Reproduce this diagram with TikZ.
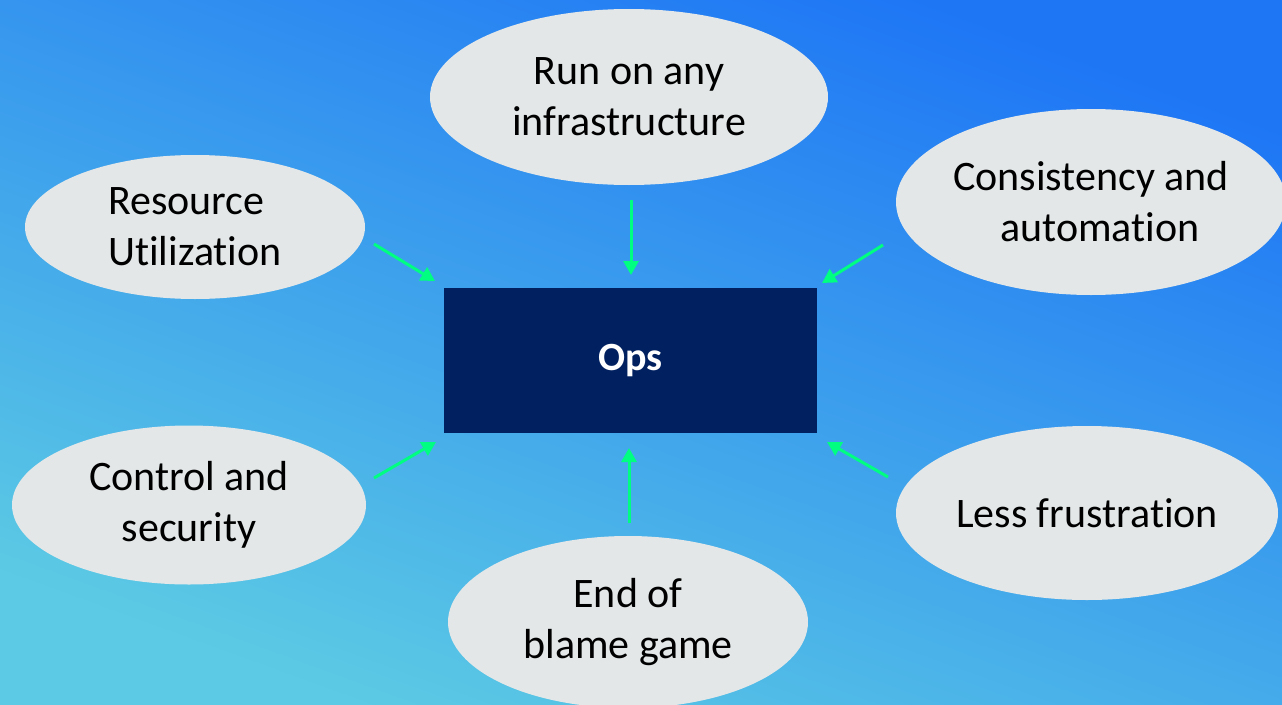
\documentclass[tikz,border=0pt]{standalone}
\usepackage{fontspec}
\setmainfont[Ligatures={NoCommon,NoRare,NoContextual},RawFeature={-calt}]{Carlito}
\usetikzlibrary{shapes.geometric,arrows.meta}
\definecolor{bgcyan}{RGB}{92,202,228}
\definecolor{bgblue}{RGB}{30,118,245}
\definecolor{ellfill}{RGB}{227,231,232}
\definecolor{opsblue}{RGB}{0,32,96}
\definecolor{arrgreen}{RGB}{0,255,128}
\tikzset{
  bubble/.style={ellipse, fill=ellfill, inner sep=0pt, text=black,
    font=\fontsize{42}{51}\selectfont, align=center},
  opsbox/.style={rectangle, fill=opsblue, inner sep=0pt, text=white,
    minimum width=373pt, minimum height=145pt, font=\fontsize{40}{48}\selectfont\bfseries},
  feed/.style={draw=arrgreen, line width=3pt, -{Triangle[length=14pt,width=15pt]}}
}
\begin{document}
\begin{tikzpicture}[x=1pt,y=-1pt]
\useasboundingbox (0,0) rectangle (1282,704);
\shade[bottom color=bgcyan, top color=bgblue, shading angle=-20] (0,0) rectangle (1282,704);
\begin{scope}
\clip (0,0) rectangle (1282,704);
\node[bubble, minimum width=398pt, minimum height=176pt] (run) at (629,97) {\raisebox{-2pt}{Run on any}\\\raisebox{-2pt}{infrastructure}};
\node[bubble, minimum width=340pt, minimum height=144pt, align=left] (res) at (195,227) {\raisebox{-1pt}{Resource}\\\raisebox{-1pt}{Utilizat\kern0pt ion}};
\node[bubble, minimum width=390pt, minimum height=186pt] (cons) at (1091,202) {\raisebox{-1pt}{Consistency and}\\\hspace*{18pt}\raisebox{-1pt}{automat\kern0pt ion}};
\node[bubble, minimum width=354pt, minimum height=159pt] (ctrl) at (189,505) {\raisebox{-2pt}{Control and}\\\raisebox{-2pt}{security}};
\node[bubble, minimum width=382pt, minimum height=174pt] (less) at (1087,513) {\raisebox{-1pt}{Less frustrat\kern0pt ion}};
\node[bubble, minimum width=360pt, minimum height=172pt] (blame) at (628,622) {\raisebox{-2pt}{End of}\\\raisebox{-2pt}{blame game}};
\end{scope}
\node[opsbox] (ops) at (630.5,360.5) {\raisebox{-3pt}{Ops}};
% connector end points
\coordinate (r1) at (374,244); \coordinate (o1) at (435,281);
\coordinate (r2) at (631,200); \coordinate (o2) at (631,275);
\coordinate (r3) at (883,245); \coordinate (o3) at (822,283);
\coordinate (r4) at (374,478); \coordinate (o4) at (436,442);
\coordinate (r5) at (888,477); \coordinate (o5) at (827,442);
\coordinate (r6) at (629,523); \coordinate (o6) at (629,448);
\draw[feed] (r1) -- (o1);
\draw[feed] (r2) -- (o2);
\draw[feed] (r3) -- (o3);
\draw[feed] (r4) -- (o4);
\draw[feed] (r5) -- (o5);
\draw[feed] (r6) -- (o6);
\end{tikzpicture}
\end{document}
